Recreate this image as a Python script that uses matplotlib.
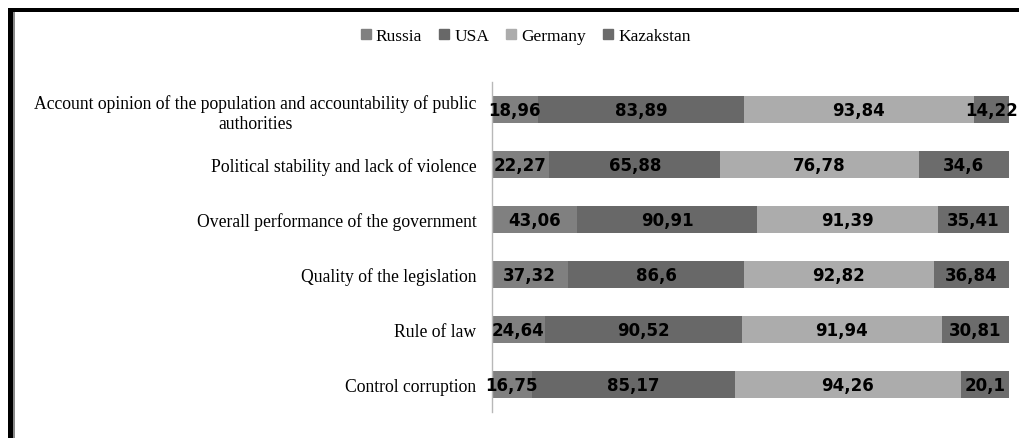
import matplotlib.pyplot as plt
import numpy as np
from matplotlib.patches import Rectangle, Patch

# indicators, top to bottom
categories = [
    "Account opinion of the population and accountability of public\nauthorities",
    "Political stability and lack of violence",
    "Overall performance of the government",
    "Quality of the legislation",
    "Rule of law",
    "Control corruption",
]
countries = ["Russia", "USA", "Germany", "Kazakstan"]
russia = [18.96, 22.27, 43.06, 37.32, 24.64, 16.75]
usa = [83.89, 65.88, 90.91, 86.6, 90.52, 85.17]
germany = [93.84, 76.78, 91.39, 92.82, 91.94, 94.26]
kazakstan = [14.22, 34.6, 35.41, 36.84, 30.81, 20.1]
colors = ["#808080", "#686868", "#acacac", "#6c6c6c"]

series = np.array([russia, usa, germany, kazakstan])
totals = series.sum(axis=0)
shares = series / totals * 100

fig = plt.figure(figsize=(10.19, 4.39), dpi=100)
ax = fig.add_axes([0.4825, 0.0592, 0.5074, 0.7517])

y = np.arange(len(categories))
left = np.zeros(len(categories))
for i, name in enumerate(countries):
    ax.barh(y, shares[i], left=left, height=0.5, color=colors[i], label=name)
    for j in range(len(categories)):
        label = f"{series[i, j]:g}".replace(".", ",")
        ax.text(left[j] + shares[i, j] / 2, y[j], label, ha="center", va="center",
                fontsize=12, fontweight="bold", family="DejaVu Sans", color="black")
    left += shares[i]

ax.set_xlim(0, 100)
ax.set_ylim(len(categories) - 0.5, -0.5)
ax.set_yticks(y)
ax.set_yticklabels(categories, family="Liberation Serif", fontsize=12.7,
                   multialignment="center", linespacing=1.25)
ax.tick_params(axis="y", length=0, pad=11)
ax.set_xticks([])
for side in ["top", "right", "bottom"]:
    ax.spines[side].set_visible(False)
ax.spines["left"].set_color("#b8b8b8")
ax.spines["left"].set_linewidth(1)

handles = [Patch(color=c, label=n) for c, n in zip(colors, countries)]
fig.legend(handles=handles, loc="center", bbox_to_anchor=(0.516, 0.915), ncol=4,
           frameon=False, prop={"family": "Liberation Serif", "size": 12.5},
           handlelength=0.55, handleheight=0.55, handletextpad=0.3, columnspacing=1.0)

# frame lines of the original picture
fig.add_artist(Rectangle((8 / 1019, 1 - 13.3 / 439), 1, 4.3 / 439,
                         transform=fig.transFigure, color="black", lw=0))
fig.add_artist(Rectangle((8 / 1019, 0), 4.7 / 1019, 1 - 9 / 439,
                         transform=fig.transFigure, color="black", lw=0))
fig.add_artist(Rectangle((12.7 / 1019, 0), 2.3 / 1019, 1 - 13.3 / 439,
                         transform=fig.transFigure, color="#8a8a8a", lw=0))

fig.savefig("out.png", dpi=100)
